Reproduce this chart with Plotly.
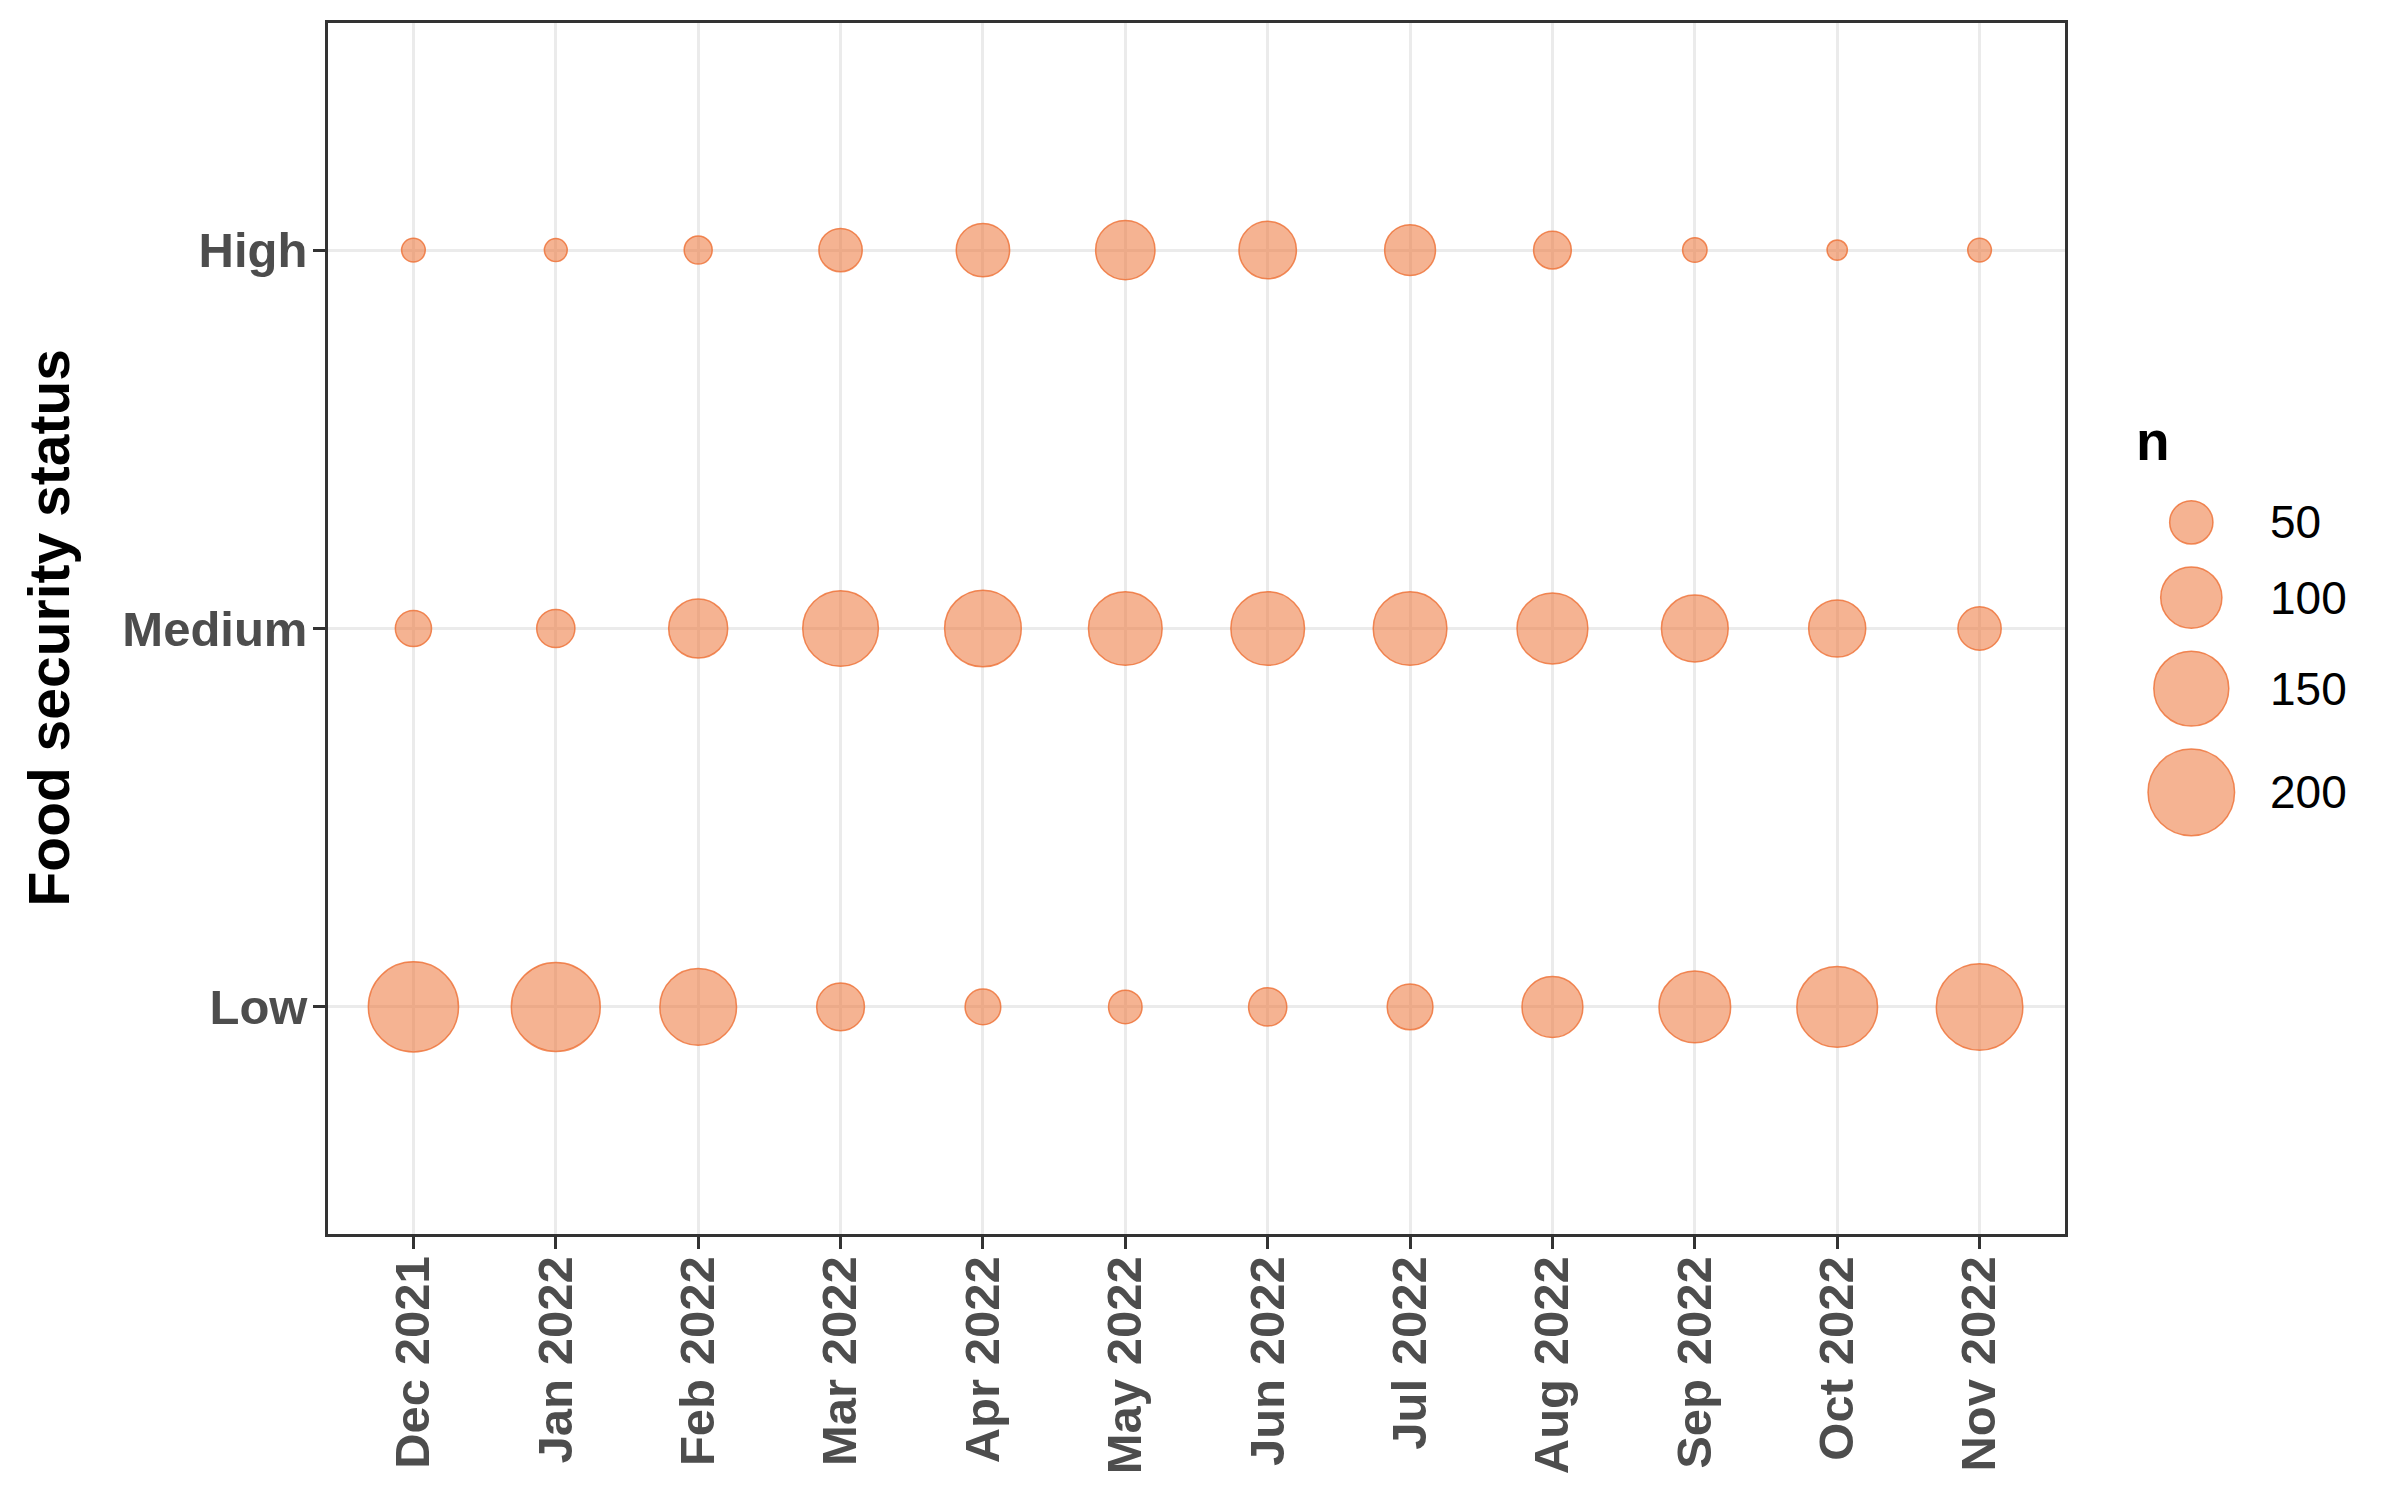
import numpy as np
import plotly.graph_objects as go

# ---------------- data ----------------
months = ["Dec 2021", "Jan 2022", "Feb 2022", "Mar 2022", "Apr 2022", "May 2022",
          "Jun 2022", "Jul 2022", "Aug 2022", "Sep 2022", "Oct 2022", "Nov 2022"]
status_levels = ["Low", "Medium", "High"]
n_high = [15, 14, 21, 50, 76, 94, 88, 69, 38, 16, 11, 15]
n_medium = [35, 39, 93, 153, 157, 145, 145, 145, 134, 119, 87, 50]
n_low = [217, 211, 157, 61, 34, 30, 39, 56, 99, 137, 174, 200]
legend_n = [50, 100, 150, 200]
legend_labels = ["50", "100", "150", "200"]

# ---------------- style ----------------
W, H = 2400, 1500
ML, MR, MT, MB = 328, 0, 23, 266
PW = W - ML - MR
PH = H - MT - MB
panel_right = 2065
k = 6.12                       # px diameter per sqrt(n)
sizeref = 2.0 / k ** 2
FILL = "rgba(237,116,56,0.55)"
EDGE = "rgba(237,110,50,0.8)"
TICK_GREY = "#4D4D4D"
FONT = "Liberation Sans"

fig = go.Figure()

xs, ys, ns = [], [], []
for lvl, vals in zip(["High", "Medium", "Low"], [n_high, n_medium, n_low]):
    xs += months
    ys += [lvl] * len(months)
    ns += vals

fig.add_trace(go.Scatter(
    x=xs, y=ys, mode="markers",
    marker=dict(size=ns, sizemode="area", sizeref=sizeref, sizemin=0, opacity=1,
                color=FILL, line=dict(color=EDGE, width=1.5)),
    showlegend=False, xaxis="x", yaxis="y",
))

# ---------------- size legend (drawn as its own small subplot) ----------------
diam = [k * np.sqrt(v) + 1 for v in legend_n]
centers = [522.3]
for i in range(1, len(legend_n)):
    centers.append(centers[-1] + (diam[i - 1] + diam[i]) / 2 + 22)

fig.add_trace(go.Scatter(
    x=[0] * len(legend_n), y=centers, mode="markers",
    marker=dict(size=legend_n, sizemode="area", sizeref=sizeref, sizemin=0, opacity=1,
                color=FILL, line=dict(color=EDGE, width=1.5)),
    showlegend=False, xaxis="x2", yaxis="y2", hoverinfo="skip",
))

leg_cx = (2191.3 - ML) / PW
main_right = (panel_right - ML) / PW

axis_common = dict(
    showline=True, linecolor="#333333", linewidth=2.5, mirror=True,
    ticks="outside", ticklen=12, tickwidth=2.5, tickcolor="#333333",
    showgrid=True, gridcolor="#EBEBEB", gridwidth=3, zeroline=False,
    tickfont=dict(family=FONT, size=49, color=TICK_GREY, weight="bold"),
    automargin=False,
)

fig.update_layout(
    width=W, height=H,
    margin=dict(l=ML, r=MR, t=MT, b=MB, pad=0),
    paper_bgcolor="white", plot_bgcolor="white",
    showlegend=False,
    xaxis=dict(type="category", categoryorder="array", categoryarray=months,
               range=[-0.6, len(months) - 0.4], domain=[0, main_right],
               tickangle=-90, ticklabelstandoff=-12, **axis_common),
    yaxis=dict(type="category", categoryorder="array", categoryarray=status_levels,
               range=[-0.6, len(status_levels) - 0.4], domain=[0, 1],
               ticklabelstandoff=-4, **axis_common),
    xaxis2=dict(domain=[leg_cx - 0.04, leg_cx + 0.04], range=[-1, 1],
                visible=False, anchor="y2", fixedrange=True),
    yaxis2=dict(domain=[0, 1], range=[MT + PH, MT], visible=False,
                anchor="x2", fixedrange=True),
)

annotations = [
    dict(text="<b>Food security status</b>", xref="paper", yref="paper",
         x=(48 - ML) / PW, y=0.5, xanchor="center", yanchor="middle",
         textangle=-90, showarrow=False,
         font=dict(family=FONT, size=57, color="black")),
    dict(text="<b>n</b>", xref="paper", yref="y2",
         x=(2134 - ML) / PW, y=441, xanchor="left", yanchor="middle",
         showarrow=False, font=dict(family=FONT, size=55, color="black")),
]
for lab, cy in zip(legend_labels, centers):
    annotations.append(dict(text=lab, xref="paper", yref="y2",
                            x=(2268 - ML) / PW, y=cy, xanchor="left",
                            yanchor="middle", showarrow=False,
                            font=dict(family=FONT, size=46, color="black")))
fig.update_layout(annotations=annotations)

fig.write_html("out.html",
               config={"displayModeBar": False},
               post_script="document.body.style.margin='0';"
                           "document.body.style.overflow='hidden';")
